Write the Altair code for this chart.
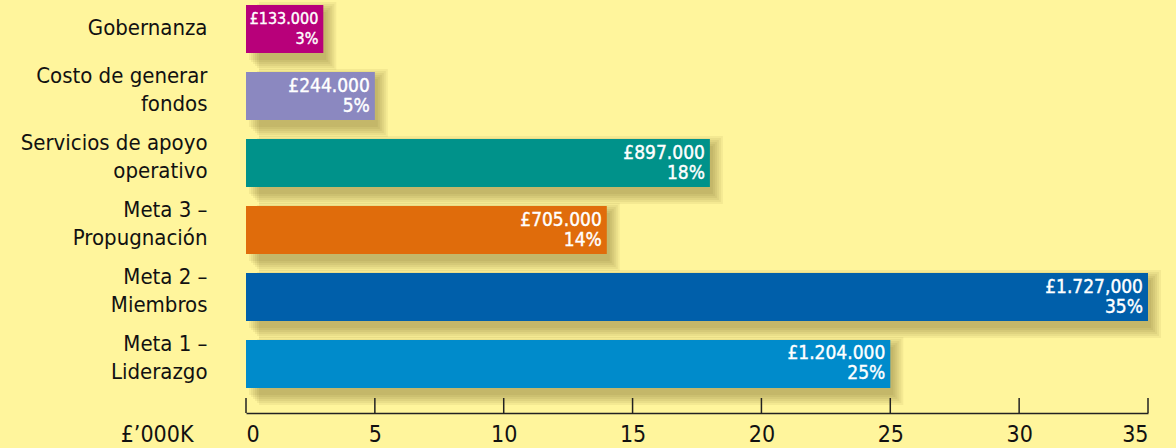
import altair as alt
import pandas as pd

categories = ["Gobernanza", "Costo de generar\nfondos", "Servicios de apoyo\noperativo",
              "Meta 3 –\nPropugnación", "Meta 2 –\nMiembros", "Meta 1 –\nLiderazgo"]
percent = [3, 5, 18, 14, 35, 25]
amount_labels = ["£133.000", "£244.000", "£897.000", "£705.000", "£1.727,000", "£1.204.000"]
pct_labels = ["3%", "5%", "18%", "14%", "35%", "25%"]
colors = ["#B8007A", "#8B88C0", "#00928A", "#E06C0B", "#005FAA", "#008BCB"]
ticks = [0, 5, 10, 15, 20, 25, 30, 35]

FONT = "DejaVu Sans Condensed"

df = pd.DataFrame({"cat": categories, "pct": percent, "amt": amount_labels,
                   "plab": pct_labels, "color": colors})
tick_df = pd.DataFrame({"t": ticks})

xscale = alt.Scale(domain=[0, 35], nice=False, zero=True)
yscale = alt.Scale(domain=categories, paddingInner=0.2836, paddingOuter=0.224, align=0.167)

x_enc = alt.X("pct:Q", scale=xscale,
              axis=alt.Axis(values=ticks, ticks=False, grid=False, domain=True,
                            domainColor="#222222", domainWidth=1.5,
                            labelFont=FONT, labelFontSize=23, labelColor="#111111",
                            labelPadding=10, labelBaseline="top",
                            title="£’000K", titleFont=FONT, titleFontSize=23,
                            titleFontWeight="normal", titleColor="#111111",
                            titleX=-53, titleY=10, titleAlign="right",
                            titleBaseline="top", titleAnchor="start"))
y_enc = alt.Y("cat:N", scale=yscale, sort=categories,
              axis=alt.Axis(title=None, domain=False, ticks=False,
                            labelFont=FONT, labelFontSize=22, labelColor="#111111",
                            labelPadding=39, labelLineHeight=28, labelLimit=300,
                            labelOffset={"condition": {"test": "indexof(datum.value, '\\n') >= 0",
                                                       "value": -20}, "value": -1.5},
                            labelExpr="split(datum.label, '\\n')"))

base = alt.Chart(df)

layers = []
for r in [10, 8, 6, 4, 2, 0]:
    layers.append(
        base.mark_bar(color="#3d3200", opacity=0.06, height=48 + 2 * r,
                      xOffset=3 + r, x2Offset=3 - r, yOffset=7)
        .encode(x=x_enc, y=y_enc)
    )

bars = base.mark_bar().encode(
    x=x_enc, y=y_enc,
    color=alt.Color("color:N", scale=None, legend=None)
)

label_size = alt.condition("datum.pct < 4", alt.value(16), alt.value(19))

amt_text = base.mark_text(align="right", baseline="middle", dx=-5, dy=-10.5,
                          color="white", font=FONT, fontWeight=500,
                          stroke="white", strokeWidth=0.4).encode(
    x=alt.X("pct:Q", scale=xscale), y=alt.Y("cat:N", scale=yscale, sort=categories),
    text="amt:N", size=label_size)
pct_text = base.mark_text(align="right", baseline="middle", dx=-5, dy=9.5,
                          color="white", font=FONT, fontWeight=500,
                          stroke="white", strokeWidth=0.4).encode(
    x=alt.X("pct:Q", scale=xscale), y=alt.Y("cat:N", scale=yscale, sort=categories),
    text="plab:N", size=label_size)

tick_rules = alt.Chart(tick_df).mark_rule(color="#222222", strokeWidth=1.5).encode(
    x=alt.X("t:Q", scale=xscale),
    y=alt.value(398), y2=alt.value(413)
)

chart = alt.layer(*layers, bars, amt_text, pct_text, tick_rules).properties(
    width=902, height=413,
    background="#FFF59C",
    autosize=alt.AutoSizeParams(type="none"),
    padding={"left": 246, "top": 0, "right": 28, "bottom": 35},
).configure_view(stroke=None)

chart.save("out.html", embed_options={"renderer": "svg", "actions": False})
